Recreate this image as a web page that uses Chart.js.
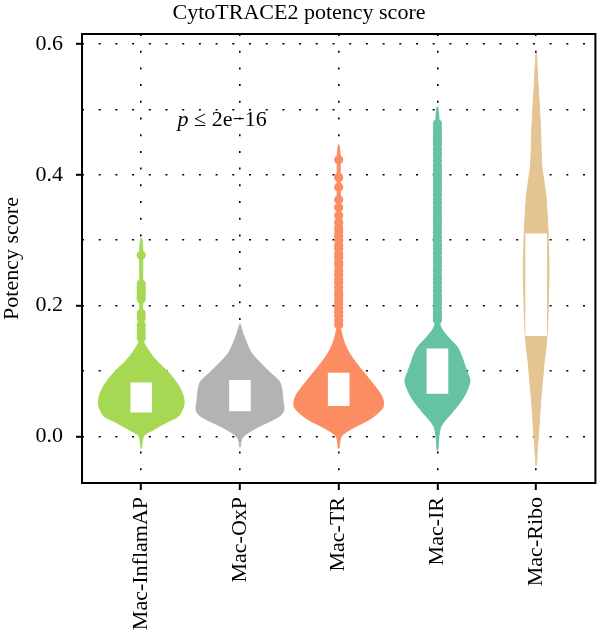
<!DOCTYPE html>
<html><head><meta charset="utf-8">
<script src="https://cdn.jsdelivr.net/npm/chart.js@4.4.1/dist/chart.umd.min.js"></script>
<style>html,body{margin:0;padding:0;background:#fff}#wrap{width:600px;height:632px;position:relative}</style>
</head><body><div id="wrap"><canvas id="c"></canvas></div>
<script>
const categories = ['Mac-InflamAP', 'Mac-OxP', 'Mac-TR', 'Mac-IR', 'Mac-Ribo'];
const colors = ['#A6D854', '#B3B3B3', '#FC8D62', '#66C2A5', '#E5C494'];

// violin outlines: potency levels (top to bottom) and density half-widths (category units)
const inflamLevels = [0.303, 0.29, 0.16, 0.145, 0.135, 0.122, 0.112, 0.102, 0.092, 0.082, 0.072, 0.062, 0.052, 0.044, 0.036, 0.030, 0.021, 0.010, 0.002, -0.006, -0.018];
const inflamWidths = [0.005, 0.015, 0.015, 0.025, 0.06, 0.12, 0.18, 0.25, 0.31, 0.36, 0.40, 0.425, 0.435, 0.425, 0.40, 0.37, 0.25, 0.12, 0.03, 0.012, 0.003];
const oxpLevels = [0.172, 0.158, 0.142, 0.127, 0.112, 0.097, 0.084, 0.071, 0.056, 0.041, 0.033, 0.025, 0.018, 0.010, 0.002, -0.005, -0.016];
const oxpWidths = [0.003, 0.03, 0.07, 0.12, 0.21, 0.31, 0.40, 0.425, 0.435, 0.445, 0.415, 0.33, 0.23, 0.13, 0.05, 0.015, 0.003];
const trLevels = [0.446, 0.43, 0.17, 0.158, 0.142, 0.127, 0.112, 0.097, 0.082, 0.066, 0.056, 0.045, 0.036, 0.025, 0.015, 0.005, -0.002, -0.018];
const trWidths = [0.003, 0.015, 0.015, 0.03, 0.06, 0.11, 0.18, 0.26, 0.34, 0.42, 0.45, 0.45, 0.40, 0.30, 0.17, 0.06, 0.02, 0.003];
const irLevels = [0.504, 0.49, 0.175, 0.163, 0.150, 0.137, 0.125, 0.112, 0.099, 0.086, 0.074, 0.061, 0.048, 0.035, 0.023, 0.013, 0.0, -0.021];
const irWidths = [0.003, 0.015, 0.02, 0.05, 0.12, 0.20, 0.24, 0.27, 0.30, 0.33, 0.31, 0.27, 0.21, 0.14, 0.07, 0.03, 0.015, 0.003];
const riboLevels = [0.586, 0.55, 0.519, 0.469, 0.418, 0.392, 0.366, 0.342, 0.316, 0.29, 0.265, 0.24, 0.214, 0.185, 0.154, 0.13, 0.112, 0.085, 0.061, 0.035, 0.01, -0.02, -0.044];
const riboWidths = [0.003, 0.015, 0.027, 0.045, 0.055, 0.077, 0.10, 0.11, 0.12, 0.125, 0.13, 0.13, 0.125, 0.12, 0.11, 0.095, 0.08, 0.065, 0.05, 0.038, 0.027, 0.012, 0.003];

// interquartile boxes (drawn white)
const boxLower = [0.037, 0.039, 0.047, 0.066, 0.154];
const boxUpper = [0.082, 0.086, 0.097, 0.134, 0.310];

// outlier points
const inflamOutliers = [0.277, 0.233, 0.228, 0.223, 0.219, 0.214, 0.210, 0.188, 0.181, 0.170, 0.163, 0.157, 0.151];
const trOutliers = [0.423, 0.396, 0.381, 0.362, 0.350, 0.338, 0.327, 0.319, 0.313, 0.306, 0.300, 0.292, 0.287, 0.279, 0.274, 0.266, 0.261, 0.253, 0.247, 0.240, 0.235, 0.228, 0.221, 0.216, 0.209, 0.203, 0.196, 0.190, 0.184, 0.177, 0.171];
const irOutliers = [0.478, 0.472, 0.466, 0.459, 0.453, 0.447, 0.440, 0.434, 0.428, 0.421, 0.414, 0.408, 0.402, 0.395, 0.389, 0.382, 0.376, 0.370, 0.363, 0.357, 0.350, 0.344, 0.337, 0.331, 0.325, 0.318, 0.312, 0.305, 0.299, 0.292, 0.286, 0.280, 0.273, 0.267, 0.260, 0.254, 0.247, 0.241, 0.235, 0.228, 0.222, 0.215, 0.209, 0.203, 0.196, 0.190, 0.184, 0.178];

const yTickValues = [0.0, 0.1, 0.2, 0.3, 0.4, 0.5, 0.6];
const yTickLabels = ['0.0', '', '0.2', '', '0.4', '', '0.6'];
const titleText = 'CytoTRACE2 potency score';
const yAxisTitle = 'Potency score';
const pValueItalic = 'p';
const pValueRest = ' \u2264 2e\u221216';

const SERIF = "'Liberation Serif', 'DejaVu Serif', serif";
const FS = 22;

const profiles = [
  [inflamLevels, inflamWidths],
  [oxpLevels, oxpWidths],
  [trLevels, trWidths],
  [irLevels, irWidths],
  [riboLevels, riboWidths]
];

const datasets = [];
profiles.forEach(([lv, wd], i) => {
  const cx = i + 1;
  const right = lv.map((v, k) => ({x: cx + wd[k], y: v}));
  const left = lv.map((v, k) => ({x: cx - wd[k], y: v})).reverse();
  datasets.push({
    type: 'line', data: right.concat(left), order: 3,
    backgroundColor: colors[i], borderColor: colors[i], borderWidth: 1,
    fill: 'shape', pointRadius: 0, tension: 0.3
  });
});
[[0, inflamOutliers], [2, trOutliers], [3, irOutliers]].forEach(([i, arr]) => {
  datasets.push({
    type: 'line', showLine: false, order: 2,
    data: arr.map(v => ({x: i + 1, y: v})),
    pointRadius: 4.6, pointBorderWidth: 0,
    pointBackgroundColor: colors[i], backgroundColor: colors[i], borderColor: colors[i]
  });
});
datasets.push({
  type: 'bar', order: 1, grouped: false,
  data: categories.map((c, i) => ({x: i + 1, y: [boxLower[i], boxUpper[i]]})),
  backgroundColor: '#ffffff', borderWidth: 0, barThickness: 21
});

const framePlugin = {
  id: 'frame',
  afterDraw(chart) {
    const {ctx, chartArea: a, scales} = chart;
    ctx.save();
    ctx.strokeStyle = '#000';
    ctx.lineWidth = 2;
    ctx.strokeRect(a.left, a.top, a.right - a.left, a.bottom - a.top);
    const px = scales.x.getPixelForValue(1.82);
    const py = scales.y.getPixelForValue(0.484);
    ctx.fillStyle = '#000';
    ctx.textBaseline = 'middle';
    ctx.font = 'italic ' + FS + 'px ' + SERIF;
    const w1 = ctx.measureText(pValueItalic).width;
    ctx.font = FS + 'px ' + SERIF;
    const w2 = ctx.measureText(pValueRest).width;
    const x0 = px - (w1 + w2) / 2;
    ctx.font = 'italic ' + FS + 'px ' + SERIF;
    ctx.textAlign = 'left';
    ctx.fillText(pValueItalic, x0, py);
    ctx.font = FS + 'px ' + SERIF;
    ctx.fillText(pValueRest, x0 + w1, py);
    ctx.restore();
  }
};

new Chart(document.getElementById('c'), {
  type: 'line',
  data: {datasets},
  plugins: [framePlugin],
  options: {
    responsive: true, maintainAspectRatio: false, animation: false,
    layout: {padding: {left: 0, right: 2, top: 0, bottom: 0}},
    plugins: {
      legend: {display: false}, tooltip: {enabled: false},
      title: {display: true, text: titleText, color: '#000',
        font: {family: SERIF, size: FS, weight: 'normal', lineHeight: 1.2}, padding: {top: 0, bottom: 7.6}}
    },
    scales: {
      x: {
        type: 'linear', min: 0.4, max: 5.6, offset: false,
        afterBuildTicks: s => { s.ticks = categories.map((c, i) => ({value: i + 1})); },
        afterFit: s => { s.height = 149; },
        ticks: {autoSkip: false, minRotation: 90, maxRotation: 90, padding: 7, color: '#000',
          font: {family: SERIF, size: FS},
          callback: v => categories[Math.round(v) - 1]},
        grid: {offset: false, color: '#000', lineWidth: 1.6, tickLength: 7, tickWidth: 2,
          tickColor: '#000', tickBorderDash: [10, 0]},
        border: {display: false, dash: [2, 14.7]}
      },
      y: {
        type: 'linear', min: -0.0711, max: 0.6153,
        afterBuildTicks: s => { s.ticks = yTickValues.map(v => ({value: v})); },
        afterFit: s => { s.width = 82; },
        ticks: {autoSkip: false, padding: 13, color: '#000', font: {family: SERIF, size: FS},
          callback: v => { const k = yTickValues.findIndex(t => Math.abs(t - v) < 1e-9); return k >= 0 ? yTickLabels[k] : ''; }},
        title: {display: true, text: yAxisTitle, color: '#000', font: {family: SERIF, size: FS}, padding: {top: -1, bottom: 0}},
        grid: {color: '#000', lineWidth: 1.6, tickLength: 6, tickWidth: 2,
          tickColor: c => (yTickLabels[c.index] ? '#000' : 'rgba(0,0,0,0)'), tickBorderDash: [10, 0]},
        border: {display: false, dash: [2, 14.7]}
      }
    }
  }
});
</script></body></html>
